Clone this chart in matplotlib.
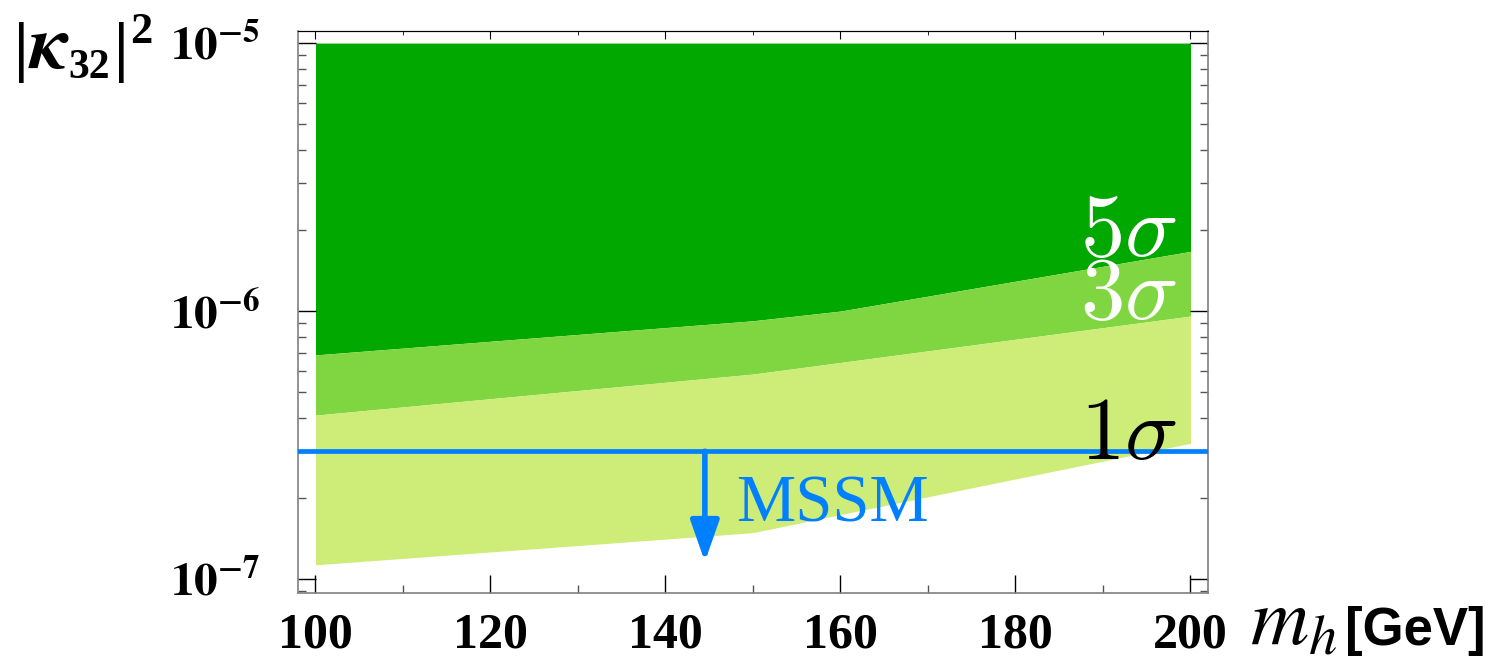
import matplotlib
matplotlib.use("Agg")
import matplotlib.pyplot as plt
from matplotlib.ticker import MultipleLocator, LogLocator, NullFormatter

plt.rcParams["mathtext.fontset"] = "stix"
plt.rcParams["font.family"] = ["Liberation Serif", "DejaVu Serif"]

# ---- data ----
m_h = [100, 150, 160, 200]
five_sigma_low = [6.86e-7, 9.2e-7, 1.0e-6, 1.67e-6]
three_sigma_low = [4.09e-7, 5.82e-7, 6.43e-7, 9.58e-7]
one_sigma_low = [1.13e-7, 1.49e-7, 1.74e-7, 3.21e-7]
top_value = 1e-5
mssm_bound = 3.0e-7
arrow_x = 144.5
arrow_end = 1.16e-7
ytick_vals = [1e-7, 1e-6, 1e-5]
ytick_text = [r"$\mathbf{10^{-7}}$", r"$\mathbf{10^{-6}}$", r"$\mathbf{10^{-5}}$"]
xtick_vals = [100, 120, 140, 160, 180, 200]

DARK, MID, LIGHT = "#00a800", "#80d640", "#cdec78"
BLUE = "#0080ff"
GRAY = "#808080"

W, H = 1498, 670
fig = plt.figure(figsize=(W / 100, H / 100), dpi=100)
ax = fig.add_axes([298/W, 1 - 593/H, 910/W, 562/H])

ax.fill_between(m_h, five_sigma_low, top_value, color=DARK, lw=0)
ax.fill_between(m_h, three_sigma_low, five_sigma_low, color=MID, lw=0)
ax.fill_between(m_h, one_sigma_low, three_sigma_low, color=LIGHT, lw=0)

ax.set_yscale("log")
ax.set_xlim(98.0, 202.0)
ax.set_ylim(10**-7.052, 10**-4.955)

# MSSM bound
ax.axhline(mssm_bound, color=BLUE, lw=3.4, zorder=5)
ax.annotate("", xy=(arrow_x, arrow_end), xytext=(arrow_x, mssm_bound),
            arrowprops=dict(arrowstyle="-|>,head_length=1.0,head_width=0.35",
                            color=BLUE, lw=4, mutation_scale=25,
                            shrinkA=0, shrinkB=0), zorder=5)
ax.text(148.1, 1.64e-7, "MSSM", color=BLUE, fontsize=48,
        ha="left", va="baseline", family="Liberation Serif")

# sigma labels
ax.text(198.4, 1.6e-6, r"$5\sigma$", color="white", fontsize=64,
        ha="right", va="baseline", math_fontfamily="cm")
ax.text(198.4, 9.33e-7, r"$3\sigma$", color="white", fontsize=64,
        ha="right", va="baseline", math_fontfamily="cm")
ax.text(198.4, 2.8e-7, r"$1\sigma$", color="black", fontsize=64,
        ha="right", va="baseline", math_fontfamily="cm", zorder=6)

# ticks
ax.set_xticks(xtick_vals)
ax.set_xticklabels([str(v) for v in xtick_vals])
ax.xaxis.set_minor_locator(MultipleLocator(10))
ax.set_yticks(ytick_vals)
ax.set_yticklabels(ytick_text)
ax.yaxis.set_minor_locator(LogLocator(base=10, subs=range(2, 10)))
ax.yaxis.set_minor_formatter(NullFormatter())

ax.tick_params(which="major", direction="in", length=13, width=1, color="black",
               right=True, top=False, labelsize=36, pad=14)
ax.tick_params(which="minor", direction="in", length=6, width=1, color="#555555",
               right=True, top=False)
ax.tick_params(axis="y", which="major", pad=27, labelsize=34)
for lab in ax.get_xticklabels() + ax.get_yticklabels():
    lab.set_fontweight("bold")

top = ax.secondary_xaxis("top")
top.set_xticks(xtick_vals)
top.xaxis.set_minor_locator(MultipleLocator(10))
top.tick_params(which="major", direction="in", length=6, labeltop=False)
top.tick_params(which="minor", direction="in", length=3)
top.spines["top"].set_color("black")

for s in ["left", "bottom", "right"]:
    ax.spines[s].set_color(GRAY)
    ax.spines[s].set_linewidth(1.2)
ax.spines["top"].set_color("black")

# y label |kappa_32|^2, built from pieces so the bars come out tall
def ftxt(px, py, s, **kw):
    fig.text(px / W, 1 - py / H, s, ha="left", va="baseline", **kw)

ftxt(14, 69, "|", fontsize=48, fontweight="bold")
ftxt(28, 68, r"$\mathbfit{\kappa}$", fontsize=55)
ftxt(68, 78, "32", fontsize=30, fontweight="bold")
ftxt(114, 69, "|", fontsize=48, fontweight="bold")
ftxt(130, 43, "2", fontsize=32, fontweight="bold")

# x label
ftxt(1250, 645, r"$m_h$", fontsize=58)
ftxt(1345, 645, "[GeV]", fontsize=38, fontweight="bold", family="Liberation Sans")

fig.savefig("out.png", dpi=100)
